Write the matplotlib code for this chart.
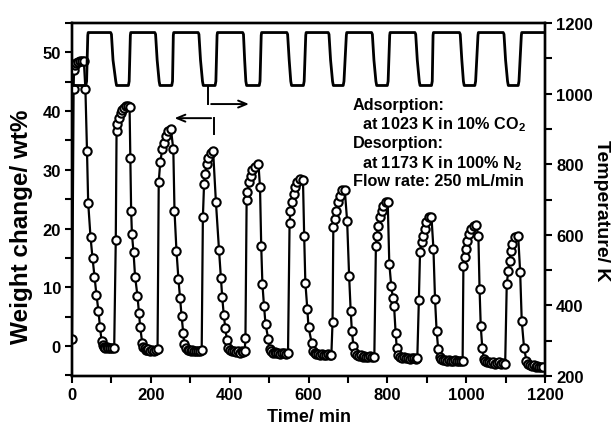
import matplotlib
matplotlib.use('Agg')
import matplotlib.pyplot as plt
from matplotlib.ticker import MultipleLocator

plt.rcParams['font.family'] = 'Liberation Sans'
plt.rcParams['font.weight'] = 'bold'
plt.rcParams['mathtext.fontset'] = 'custom'
plt.rcParams['mathtext.rm'] = 'Liberation Sans:bold'
plt.rcParams['mathtext.it'] = 'Liberation Sans:bold'
plt.rcParams['mathtext.bf'] = 'Liberation Sans:bold'

# TGA weight change over 11 adsorption/desorption cycles (min, wt%)
time_min = [
    0, 4, 5, 8, 11, 15, 20, 25, 30, 34, 38, 41, 47, 52, 57, 62, 67, 71, 75, 78, 81, 84, 88, 92, 97, 102, 107,
    111, 113, 115, 119, 123, 127, 131, 136, 141, 146, 148, 150, 152, 156, 160, 166, 170, 173, 178, 181, 184, 187, 190, 194, 198, 203, 208, 213, 217,
    220, 224, 229, 234, 239, 244, 251, 257, 260, 265, 270, 274, 278, 282, 285, 289, 293, 297, 301, 305, 310, 315, 320, 325, 329,
    332, 335, 338, 342, 346, 352, 358, 365, 373, 378, 381, 385, 389, 393, 397, 401, 405, 410, 415, 420, 425, 430, 435, 438,
    440, 443, 445, 449, 453, 457, 464, 473, 477, 480, 483, 487, 491, 498, 502, 506, 510, 514, 518, 523, 528, 533, 538, 543, 548,
    552, 554, 558, 562, 567, 571, 579, 586, 589, 592, 597, 600, 608, 612, 616, 620, 624, 629, 634, 639, 644, 649, 654, 658,
    661, 663, 667, 671, 675, 680, 686, 692, 698, 703, 707, 710, 714, 718, 722, 727, 732, 737, 742, 747, 752, 757, 762, 767,
    771, 773, 777, 781, 786, 790, 796, 801, 805, 810, 814, 817, 821, 824, 828, 832, 837, 842, 847, 852, 857, 862, 867, 872, 876,
    880, 883, 887, 891, 895, 899, 905, 912, 917, 921, 925, 929, 933, 937, 942, 947, 952, 957, 962, 967, 972, 977, 982, 987, 991,
    993, 996, 999, 1003, 1008, 1012, 1019, 1025, 1031, 1034, 1037, 1041, 1045, 1049, 1054, 1059, 1064, 1069, 1074, 1079, 1084, 1089, 1094, 1099,
    1103, 1107, 1110, 1113, 1117, 1124, 1132, 1137, 1141, 1147, 1153, 1157, 1161, 1166, 1171, 1176, 1181, 1186, 1191, 1195,
]
weight_pct = [
    1.2, 43.7, 47.0, 47.8, 48.2, 48.3, 48.5, 48.6, 48.5, 43.7, 33.2, 24.4, 18.5, 15.0, 11.8, 8.7, 6.0, 3.2, 0.9, 0.1, -0.2, -0.3, -0.2, -0.3, -0.4, -0.3, -0.3,
    18.1, 36.6, 37.8, 38.9, 39.7, 40.2, 40.5, 40.8, 40.8, 40.7, 32.1, 23.0, 19.1, 16.0, 11.8, 8.6, 5.6, 3.2, 0.6, -0.2, -0.4, -0.6, -0.7, -0.5, -0.8, -0.7, -0.9, -0.6, -0.5,
    28.0, 31.4, 33.5, 34.6, 35.8, 36.6, 36.9, 33.5, 23.0, 16.2, 11.4, 8.2, 5.1, 2.3, 0.3, -0.4, -0.6, -0.7, -0.8, -0.7, -0.9, -0.8, -0.9, -0.8, -0.7,
    21.9, 27.6, 29.3, 31.0, 32.1, 32.9, 33.2, 24.6, 16.3, 11.5, 8.4, 5.3, 3.0, 1.0, -0.3, -0.6, -0.8, -0.9, -1.0, -0.8, -1.1, -0.9, -1.0, -0.9,
    1.3, 24.8, 26.2, 27.9, 29.0, 29.9, 30.4, 31.0, 27.0, 17.1, 10.6, 6.9, 3.7, 1.2, -0.5, -0.9, -1.1, -1.0, -1.2, -1.1, -1.3, -1.2, -1.1, -1.3, -1.2,
    21.0, 23.0, 24.5, 25.9, 27.0, 27.9, 28.5, 28.2, 18.8, 10.8, 6.3, 3.2, 0.6, -0.8, -1.2, -1.4, -1.3, -1.5, -1.4, -1.6, -1.5, -1.4, -1.6, -1.5,
    4.1, 20.2, 21.6, 23.0, 24.5, 25.6, 26.5, 26.6, 21.3, 12.0, 6.0, 2.6, 0.0, -1.2, -1.5, -1.7, -1.6, -1.8, -1.7, -1.9, -1.8, -1.7, -1.9, -1.8,
    17.1, 18.8, 20.5, 21.9, 23.0, 23.9, 24.5, 24.5, 14.0, 10.2, 8.2, 6.9, 2.3, -0.4, -1.5, -1.8, -2.0, -1.9, -2.1, -2.0, -2.2, -2.1, -2.0, -2.2, -2.1,
    7.8, 16.0, 17.7, 18.8, 19.9, 21.1, 21.9, 22.0, 16.5, 8.0, 2.6, -0.5, -1.9, -2.2, -2.4, -2.3, -2.5, -2.4, -2.6, -2.5, -2.4, -2.6, -2.5, -2.6, -2.5,
    13.7, 15.1, 16.5, 17.9, 19.1, 19.9, 20.5, 20.6, 18.8, 9.7, 3.4, -0.4, -2.2, -2.6, -2.8, -2.7, -2.9, -2.8, -3.0, -2.9, -2.8, -3.0, -2.9, -3.0,
    10.6, 12.8, 14.4, 16.1, 17.4, 18.5, 18.7, 12.6, 4.3, -0.4, -2.5, -3.1, -3.3, -3.4, -3.3, -3.5, -3.4, -3.5, -3.6, -3.5,
]

# furnace temperature program (min, K)
temp_time = [
    0, 35, 37, 40, 41,
    98, 100, 104, 111, 113, 143, 145, 148, 149,
    210, 212, 216, 221, 223, 253, 255, 257, 258,
    320, 322, 326, 331, 333, 363, 365, 368, 369,
    433, 435, 438, 441, 443, 475, 477, 480, 481,
    545, 547, 551, 555, 557, 587, 589, 593, 594,
    650, 652, 656, 661, 663, 688, 690, 696, 697,
    760, 762, 766, 771, 773, 800, 802, 806, 807,
    870, 872, 876, 881, 883, 912, 914, 916, 917,
    983, 985, 989, 993, 995, 1022, 1024, 1030, 1031,
    1094, 1096, 1100, 1105, 1107, 1132, 1134, 1140, 1141,
    1200,
]
temp_K = [
    1023, 1023, 1035, 1165, 1173,
    1173, 1168, 1095, 1035, 1023, 1023, 1035, 1165, 1173,
    1173, 1168, 1095, 1035, 1023, 1023, 1035, 1165, 1173,
    1173, 1168, 1095, 1035, 1023, 1023, 1035, 1165, 1173,
    1173, 1168, 1095, 1035, 1023, 1023, 1035, 1165, 1173,
    1173, 1168, 1095, 1035, 1023, 1023, 1035, 1165, 1173,
    1173, 1168, 1095, 1035, 1023, 1023, 1035, 1165, 1173,
    1173, 1168, 1095, 1035, 1023, 1023, 1035, 1165, 1173,
    1173, 1168, 1095, 1035, 1023, 1023, 1035, 1165, 1173,
    1173, 1168, 1095, 1035, 1023, 1023, 1035, 1165, 1173,
    1173, 1168, 1095, 1035, 1023, 1023, 1035, 1165, 1173,
    1173,
]

conditions = [
    'Adsorption:',
    '  at 1023 K in 10% CO$_2$',
    'Desorption:',
    '  at 1173 K in 100% N$_2$',
    'Flow rate: 250 mL/min',
]

fig, ax = plt.subplots(figsize=(6.14, 4.31), dpi=100)
ax2 = ax.twinx()

ax.plot(time_min, weight_pct, '-', color='black', lw=1.6,
        marker='o', ms=6, mfc='white', mec='black', mew=1.5, zorder=3)
ax2.plot(temp_time, temp_K, '-', color='black', lw=2.0)

ax.set_xlim(0, 1200)
ax.set_ylim(-5.1, 55)
ax2.set_ylim(200, 1200)

ax.xaxis.set_major_locator(MultipleLocator(200))
ax.xaxis.set_minor_locator(MultipleLocator(100))
ax.yaxis.set_major_locator(MultipleLocator(10))
ax.yaxis.set_minor_locator(MultipleLocator(5))
ax2.yaxis.set_major_locator(MultipleLocator(200))
ax2.yaxis.set_minor_locator(MultipleLocator(100))

for a in (ax, ax2):
    a.tick_params(which='both', direction='out', length=5, width=1.5, labelsize=12, pad=3)
    for s in a.spines.values():
        s.set_linewidth(1.7)
ax.tick_params(top=False, right=False)

ax.set_xlabel('Time/ min', fontsize=13, fontweight='bold', labelpad=4)
ax.set_ylabel('Weight change/ wt%', fontsize=17.5, fontweight='bold', va='center', ha='center')
ax.yaxis.set_label_coords(-0.106, 0.425)
ax2.set_ylabel('Temperature/ K', fontsize=14, fontweight='bold', rotation=-90, va='center', ha='center')
ax2.yaxis.set_label_coords(1.12, 0.47)

# arrows pointing each curve to its axis
ax.plot([346, 346], [44.1, 41.2], color='black', lw=1.4)
ax.annotate('', xy=(456, 41.2), xytext=(346, 41.2),
            arrowprops=dict(arrowstyle='->,head_length=0.6,head_width=0.25', color='black', lw=1.4))
ax.plot([360, 360], [36.1, 38.8], color='black', lw=1.4)
ax.annotate('', xy=(253, 38.8), xytext=(360, 38.8),
            arrowprops=dict(arrowstyle='->,head_length=0.6,head_width=0.25', color='black', lw=1.4))

text_y = [41.2, 37.8, 34.7, 31.3, 28.2]
for line, y in zip(conditions, text_y):
    ax.text(712, y, line, fontsize=11.7, fontweight='bold', va='center', ha='left')

plt.subplots_adjust(left=0.1173, right=0.8876, bottom=0.1253, top=0.9443)
fig.savefig('out.png', dpi=100)
